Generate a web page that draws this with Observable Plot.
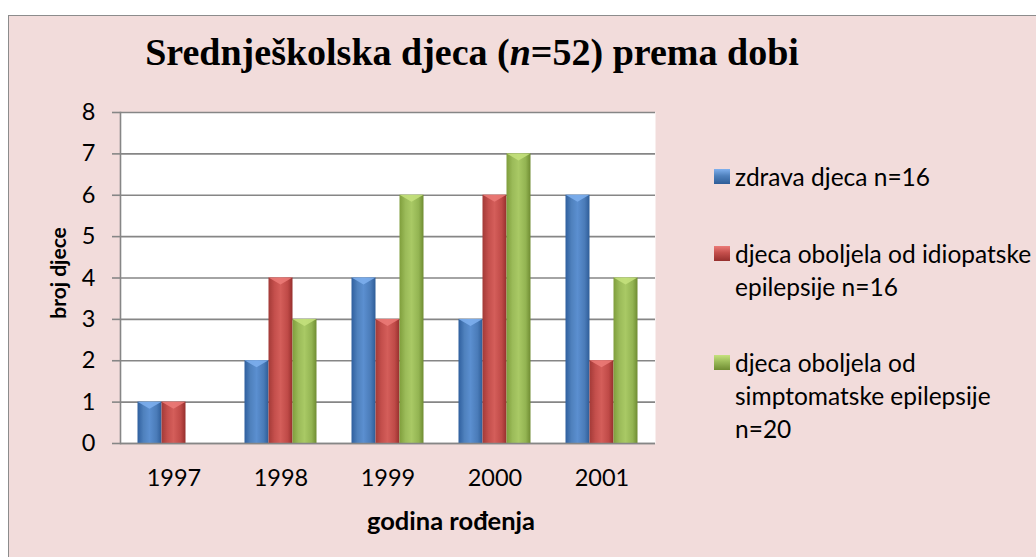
<!DOCTYPE html>
<html>
<head>
<meta charset="utf-8">
<script src="https://cdn.jsdelivr.net/npm/d3@7"></script>
<script src="https://cdn.jsdelivr.net/npm/@observablehq/plot@0.6"></script>
<style>
  html, body { margin: 0; padding: 0; background: white; overflow: hidden; }
  #wrap { position: relative; width: 1036px; height: 557px; overflow: hidden; }
  #panel { position: absolute; left: 8px; top: 15px; width: 1100px; height: 600px;
           background: #F2DCDB; border: 1px solid #8c8c8c; box-sizing: border-box; }
  #title { position: absolute; left: 0; width: 944px; top: 30px; text-align: center;
           font-family: "Liberation Serif", "Times New Roman", serif; font-weight: bold;
           font-size: 38px; line-height: 44px; color: #000; white-space: nowrap; }
  #chart { position: absolute; left: 0; top: 0; }
  .leg { position: absolute; left: 714px; font-family: Lato, "Open Sans", sans-serif;
         font-size: 24.5px; line-height: 33px; color: #000; }
  .leg .sw { position: absolute; left: 0; width: 16px; height: 15px; }
  .leg .tx { position: absolute; left: 21px; white-space: nowrap; }
</style>
</head>
<body>
<div id="wrap">
  <div id="panel"></div>
  <div id="title">Srednješkolska djeca (<i>n</i>=52) prema dobi</div>
  <div id="chart"></div>
</div>
<script>
const years = ["1997", "1998", "1999", "2000", "2001"];
const seriesNames = [
  "zdrava djeca n=16",
  "djeca oboljela od idiopatske epilepsije n=16",
  "djeca oboljela od simptomatske epilepsije n=20"
];
const healthy    = [1, 2, 4, 3, 6];
const idiopathic = [1, 4, 3, 6, 2];
const symptomatic = [0, 3, 6, 7, 4];
const yTicks = [0, 1, 2, 3, 4, 5, 6, 7, 8];
const legendLines = [
  ["zdrava djeca n=16"],
  ["djeca oboljela od idiopatske", "epilepsije n=16"],
  ["djeca oboljela od", "simptomatske epilepsije", "n=20"]
];

const toRows = vals => years.map((y, i) => ({year: y, value: vals[i]}));
const series = [
  {rows: toRows(healthy), grad: "gBlue", dx: -24},
  {rows: toRows(idiopathic), grad: "gRed", dx: 0},
  {rows: toRows(symptomatic), grad: "gGreen", dx: 24}
];

const W = 1036, H = 557;
const mL = 120, mR = W - 655, mT = 112, mB = H - 443;
const barW = 24;

const svg = Plot.plot({
  width: W, height: H,
  marginLeft: mL, marginRight: mR, marginTop: mT, marginBottom: mB,
  style: {background: "transparent", fontFamily: "Lato, 'Open Sans', sans-serif", color: "#000"},
  x: {domain: years, padding: 0},
  y: {domain: [0, 8]},
  marks: [
    Plot.frame({fill: "white", stroke: "none"}),
    Plot.gridY(yTicks, {stroke: "#868686", strokeOpacity: 1, strokeWidth: 1.6}),
    ...series.map(s => Plot.barY(s.rows.filter(d => d.value > 0), {
      x: "year", y: "value", dx: s.dx,
      fill: `url(#${s.grad})`,
      className: "bar-" + s.grad
    })),
    Plot.ruleY([0], {stroke: "#868686", strokeWidth: 1.6}),
    Plot.frame({anchor: "left", stroke: "#868686", strokeWidth: 1.6}),
    Plot.axisY(yTicks, {tickSize: 8, tickPadding: 17, fontSize: 23.5, stroke: "#868686", strokeWidth: 1.6, label: null, fill: "#000"}),
    Plot.axisX({tickSize: 0, tickPadding: 26, fontSize: 23.5, label: null, fill: "#000"}),
    Plot.text(["broj djece"], {frameAnchor: "left", textAnchor: "middle", rotate: -90, dx: -61, dy: -5, fontWeight: "bold", fontSize: 21, fill: "#000"}),
    Plot.text(["godina rođenja"], {frameAnchor: "bottom", dx: 63, dy: 86, fontWeight: "bold", fontSize: 25.5, fill: "#000"})
  ]
});

const grads = {
  gBlue:  ["#2f5f9e", "#4f81bd", "#5b8fd0", "#4a7bb8", "#2e5d98", "#7fb0ee"],
  gRed:   ["#a33a37", "#c44f4c", "#d45e5a", "#bf4a47", "#962f2d", "#ec7b78"],
  gGreen: ["#7f9e3c", "#9bbb59", "#a9c965", "#93b452", "#6f8c32", "#c6e27e"]
};
const defs = d3.select(svg).insert("defs", ":first-child");
for (const [id, cs] of Object.entries(grads)) {
  const g = defs.append("linearGradient").attr("id", id).attr("x1", 0).attr("x2", 1).attr("y1", 0).attr("y2", 0);
  [0, 0.25, 0.5, 0.8, 1].forEach((o, i) => g.append("stop").attr("offset", o).attr("stop-color", cs[i]));
}

// Narrow each bar to the Excel-like width, centred in its slot, and add the bevel cap
for (const s of series) {
  d3.select(svg).selectAll(`g.bar-${s.grad} rect, g[class*='bar-${s.grad}'] rect`).each(function() {
    const r = d3.select(this);
    if (r.attr("data-done")) return;
    const x = +r.attr("x"), w = +r.attr("width"), y = +r.attr("y");
    const nx = x + (w - barW) / 2;
    r.attr("x", nx).attr("width", barW).attr("data-done", 1);
    d3.select(this.parentNode).append("polygon")
      .attr("points", `${nx},${y} ${nx + barW},${y} ${nx + barW / 2},${y + 7}`)
      .attr("transform", r.attr("transform"))
      .attr("fill", grads[s.grad][5]).attr("opacity", 0.85);
  });
}
document.getElementById("chart").appendChild(svg);

// Legend
const legTops = [176, 253, 362];
const wrap = document.getElementById("wrap");
legendLines.forEach((lines, i) => {
  const el = document.createElement("div");
  el.className = "leg";
  el.style.top = (legTops[i] - 16.5) + "px";
  const sw = document.createElement("div");
  sw.className = "sw";
  sw.style.top = "9px";
  const c = grads[series[i].grad];
  sw.style.background = `linear-gradient(180deg, ${c[5]} 0%, ${c[1]} 45%, ${c[4]} 100%)`;
  el.appendChild(sw);
  lines.forEach((ln, j) => {
    const t = document.createElement("div");
    t.className = "tx";
    t.style.top = (j * 33) + "px";
    t.textContent = ln;
    el.appendChild(t);
  });
  el.setAttribute("title", seriesNames[i]);
  wrap.appendChild(el);
});
</script>
</body>
</html>
